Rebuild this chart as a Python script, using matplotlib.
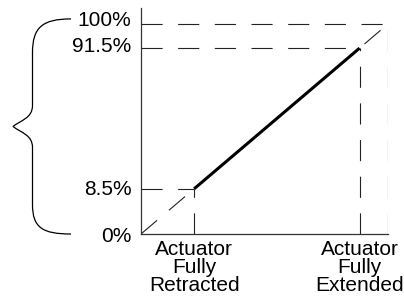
import matplotlib
matplotlib.use("Agg")
import matplotlib.pyplot as plt
from matplotlib.path import Path
from matplotlib.patches import PathPatch
from matplotlib.transforms import blended_transform_factory

plt.rcParams['font.family'] = ['Liberation Sans', 'DejaVu Sans']

# schematic positions (axis runs 0..100 on both sides)
y_levels = [0, 21.5, 88.5, 100]
y_tick_labels = ['0%', '8.5%', '91.5%', '100%']
x_tick_pos = [21.5, 88.5]
x_tick_labels = ['Actuator\nFully\nRetracted', 'Actuator\nFully\nExtended']

# operating line: retracted -> extended
line_x = [21.5, 88.5]
line_y = [21.5, 88.5]

fig = plt.figure(figsize=(4.04, 3.05), dpi=100)
ax = fig.add_axes([141 / 404, 71 / 305, 247 / 404, 226 / 305])
ax.set_xlim(0, 100)
ax.set_ylim(0, 107.6)

dash = dict(color='#222222', lw=0.8, linestyle=(0, (19, 14)))

# reference dashed lines
ax.plot([0, 100], [0, 100], **dash)
ax.plot([0, 100], [100, 100], **dash)
ax.plot([100, 100], [0, 100], **dash)
ax.plot([0, line_x[1]], [line_y[1], line_y[1]], **dash)
ax.plot([line_x[1], line_x[1]], [0, line_y[1]], **dash)
ax.plot([0, line_x[0]], [line_y[0], line_y[0]], **dash)
ax.plot([line_x[0], line_x[0]], [0, line_y[0]], **dash)

# the solid operating line
ax.plot(line_x, line_y, color='black', lw=2.2, solid_capstyle='butt')

for s in ['top', 'right']:
    ax.spines[s].set_visible(False)
ax.spines['bottom'].set_bounds(0, 100)
for s in ['left', 'bottom']:
    ax.spines[s].set_color('#333333')
    ax.spines[s].set_linewidth(0.9)

# y labels sit a touch above their lines, as in the drawing
label_shift = [0, 0.8, 1.8, 2.5]
ax.set_yticks([v + d for v, d in zip(y_levels, label_shift)])
ax.set_yticklabels(y_tick_labels, fontsize=15)
ax.set_xticks(x_tick_pos)
ax.set_xticklabels(x_tick_labels, fontsize=15, linespacing=0.95)
ax.tick_params(axis='y', length=0, pad=7)
ax.tick_params(axis='x', length=0, pad=4)

# curly brace on the left, spanning 0% .. 100%
tr = blended_transform_factory(fig.transFigure, ax.transData)
x_end, x_mid, x_tip = 71 / 404, 32.5 / 404, 13 / 404
top, bot = 102.4, 0.0
mid = (top + bot) / 2
verts = [
    (x_end, top),
    (x_mid + 0.025, top), (x_mid, top - 4), (x_mid, top - 16),
    (x_mid, mid + 10),
    (x_mid, mid + 4), (x_tip + 0.02, mid + 3), (x_tip, mid),
    (x_tip + 0.02, mid - 3), (x_mid, mid - 4), (x_mid, mid - 10),
    (x_mid, bot + 14),
    (x_mid, bot + 3), (x_mid + 0.025, bot), (x_end, bot),
]
codes = [Path.MOVETO,
         Path.CURVE4, Path.CURVE4, Path.CURVE4,
         Path.LINETO,
         Path.CURVE4, Path.CURVE4, Path.CURVE4,
         Path.CURVE4, Path.CURVE4, Path.CURVE4,
         Path.LINETO,
         Path.CURVE4, Path.CURVE4, Path.CURVE4]
brace = PathPatch(Path(verts, codes), transform=tr, fill=False,
                  lw=0.9, edgecolor='black', clip_on=False)
ax.add_patch(brace)

fig.savefig('out.png', dpi=100)
